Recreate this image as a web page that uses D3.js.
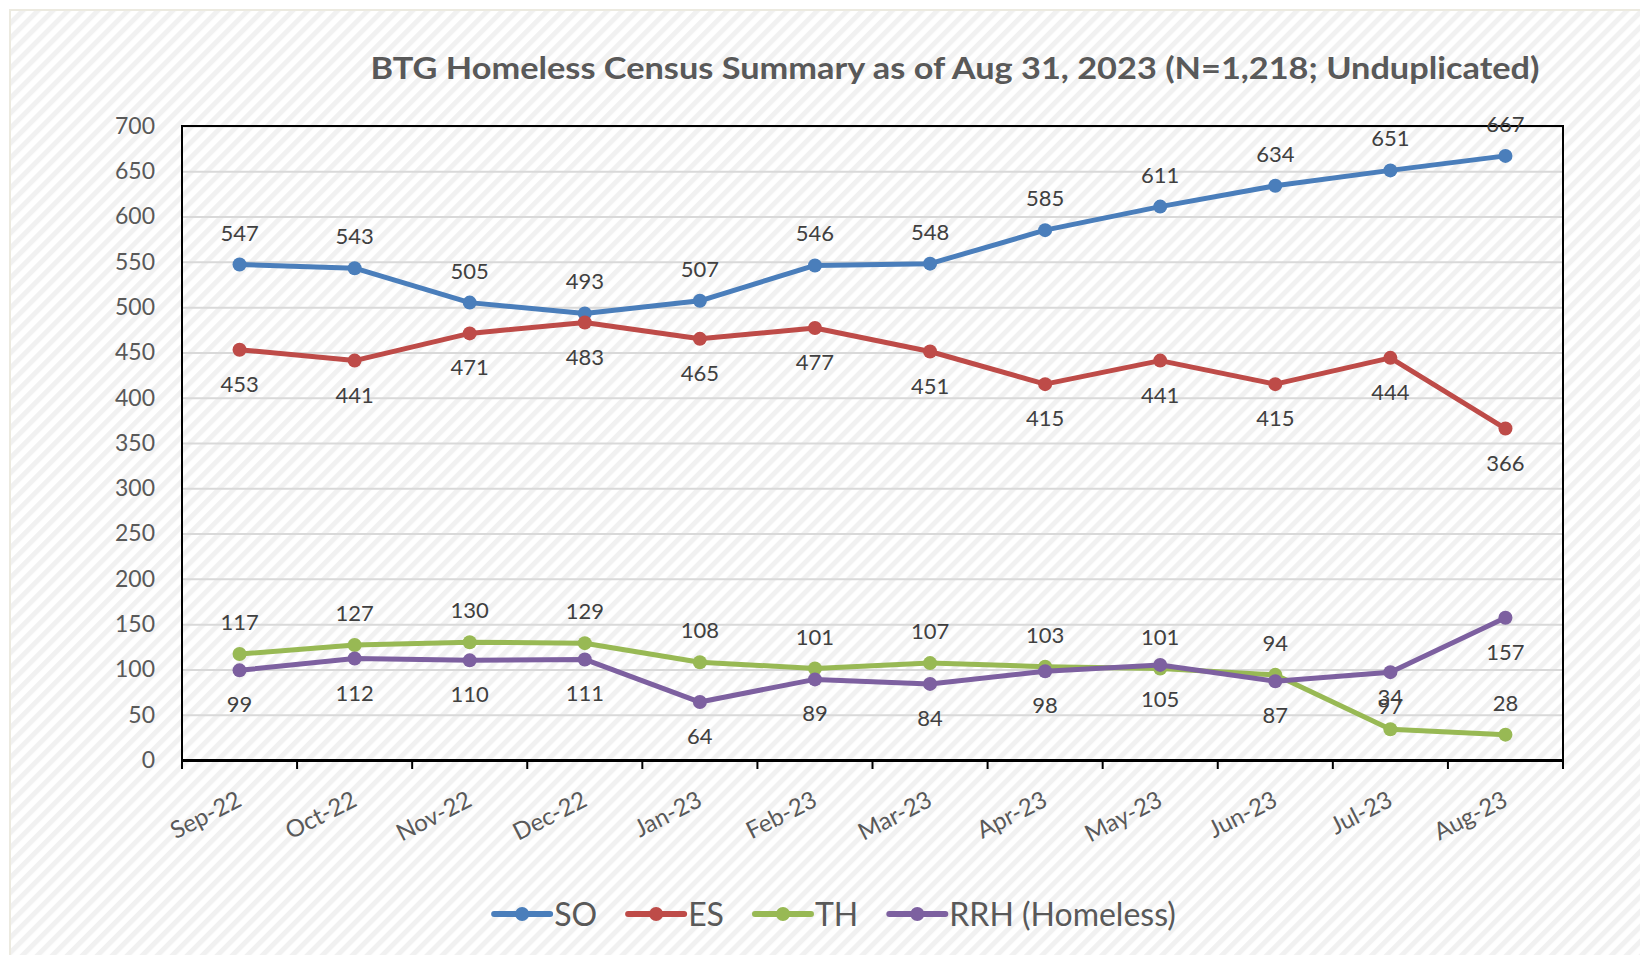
<!DOCTYPE html>
<html>
<head>
<meta charset="utf-8">
<script src="https://cdn.jsdelivr.net/npm/d3@7"></script>
<style>
  html, body { margin: 0; padding: 0; background: #fff; }
  svg { display: block; font-family: Lato, "Open Sans", sans-serif; }
</style>
</head>
<body>
<div id="chart"></div>
<script>
/* ---------- data ---------- */
const months = ["Sep-22", "Oct-22", "Nov-22", "Dec-22", "Jan-23", "Feb-23",
                "Mar-23", "Apr-23", "May-23", "Jun-23", "Jul-23", "Aug-23"];

const soValues  = [547, 543, 505, 493, 507, 546, 548, 585, 611, 634, 651, 667];
const esValues  = [453, 441, 471, 483, 465, 477, 451, 415, 441, 415, 444, 366];
const thValues  = [117, 127, 130, 129, 108, 101, 107, 103, 101, 94, 34, 28];
const rrhValues = [99, 112, 110, 111, 64, 89, 84, 98, 105, 87, 97, 157];

const yTicks = d3.range(0, 701, 50);

const series = [
  { name: "SO",             values: soValues,  color: "#4a7ebb", labelPos: "above" },
  { name: "ES",             values: esValues,  color: "#be4b48", labelPos: "below" },
  { name: "TH",             values: thValues,  color: "#98b954", labelPos: "above" },
  { name: "RRH (Homeless)", values: rrhValues, color: "#7d60a0", labelPos: "below" }
];

/* ---------- layout ---------- */
const W = 1640, H = 955;
const plot = { left: 182, right: 1563, top: 126, bottom: 760 };

const svg = d3.select("#chart").append("svg")
  .attr("width", W)
  .attr("height", H);

// diagonal hatch background
const defs = svg.append("defs");
const hatch = defs.append("pattern")
  .attr("id", "hatch")
  .attr("patternUnits", "userSpaceOnUse")
  .attr("width", 10.6)
  .attr("height", 10.6)
  .attr("patternTransform", "rotate(45)");
hatch.append("rect").attr("width", 10.6).attr("height", 10.6).attr("fill", "#ffffff");
hatch.append("rect").attr("width", 5).attr("height", 10.6).attr("fill", "#f1f1f1");

svg.append("rect")
  .attr("x", 10).attr("y", 10)
  .attr("width", W).attr("height", H)
  .attr("fill", "url(#hatch)")
  .attr("stroke", "#eceae0")
  .attr("stroke-width", 2);

/* ---------- scales ---------- */
const x = d3.scaleBand()
  .domain(months)
  .range([plot.left, plot.right]);

const y = d3.scaleLinear()
  .domain([0, 700])
  .range([plot.bottom, plot.top]);

const cx = m => x(m) + x.bandwidth() / 2;

/* ---------- gridlines + y axis ---------- */
const yAxis = svg.append("g")
  .attr("transform", `translate(${plot.left},0)`)
  .call(d3.axisLeft(y)
    .tickValues(yTicks)
    .tickSize(-(plot.right - plot.left))
    .tickPadding(27));

yAxis.select(".domain").remove();
yAxis.selectAll(".tick line")
  .attr("stroke", "#d9d9d9")
  .attr("stroke-width", 2);
yAxis.selectAll(".tick text")
  .attr("fill", "#595959")
  .attr("font-size", "23px")
  .attr("font-family", "Lato, sans-serif");

// plot frame
svg.append("rect")
  .attr("x", plot.left).attr("y", plot.top)
  .attr("width", plot.right - plot.left)
  .attr("height", plot.bottom - plot.top)
  .attr("fill", "none")
  .attr("stroke", "#000")
  .attr("stroke-width", 2);

/* ---------- x axis ---------- */
const xAxis = svg.append("g")
  .attr("transform", `translate(0,${plot.bottom})`)
  .call(d3.axisBottom(x).tickSize(0).tickFormat(d => d));

xAxis.select(".domain")
  .attr("stroke", "#000")
  .attr("stroke-width", 3);

xAxis.selectAll(".tick text")
  .attr("fill", "#595959")
  .attr("font-size", "24px")
  .attr("font-family", "Lato, sans-serif")
  .attr("text-anchor", "end")
  .attr("y", 0)
  .attr("dy", "0.71em")
  .attr("transform", `translate(-4,30) rotate(-27)`);

// tick marks between categories
const boundaries = months.map(m => x(m)).concat([plot.right]);
svg.append("g")
  .selectAll("line")
  .data(boundaries)
  .join("line")
  .attr("x1", d => d).attr("x2", d => d)
  .attr("y1", plot.bottom).attr("y2", plot.bottom + 9)
  .attr("stroke", "#000")
  .attr("stroke-width", 2);

/* ---------- lines, markers, labels ---------- */
const line = d3.line()
  .x((d, i) => cx(months[i]))
  .y(d => y(d));

series.forEach(s => {
  const g = svg.append("g");

  g.append("path")
    .datum(s.values)
    .attr("d", line)
    .attr("fill", "none")
    .attr("stroke", s.color)
    .attr("stroke-width", 5)
    .attr("stroke-linejoin", "round");

  g.selectAll("circle")
    .data(s.values)
    .join("circle")
    .attr("cx", (d, i) => cx(months[i]))
    .attr("cy", d => y(d))
    .attr("r", 7)
    .attr("fill", s.color);
});

// labels drawn after all lines so they sit on top
series.forEach(s => {
  svg.append("g")
    .selectAll("text")
    .data(s.values)
    .join("text")
    .attr("x", (d, i) => cx(months[i]))
    .attr("y", d => s.labelPos === "above" ? y(d) - 24 : y(d) + 42)
    .attr("text-anchor", "middle")
    .attr("font-size", "22px")
    .attr("fill", "#404040")
    .text(d => d);
});

/* ---------- title ---------- */
svg.append("text")
  .attr("x", 955)
  .attr("y", 79)
  .attr("text-anchor", "middle")
  .attr("font-size", "31px")
  .attr("font-weight", 700)
  .attr("fill", "#595959")
  .attr("textLength", 1169)
  .attr("lengthAdjust", "spacingAndGlyphs")
  .text("BTG Homeless Census Summary as of Aug 31, 2023 (N=1,218; Unduplicated)");

/* ---------- legend ---------- */
const legend = svg.append("g");
const legendY = 914;
const swatch = 56, textGap = 4, itemGap = 31;

let lx = 0;
series.forEach(s => {
  const item = legend.append("g");
  item.append("line")
    .attr("x1", 0).attr("x2", swatch)
    .attr("y1", 0).attr("y2", 0)
    .attr("stroke", s.color)
    .attr("stroke-width", 6)
    .attr("stroke-linecap", "round");
  item.append("circle")
    .attr("cx", swatch / 2).attr("cy", 0)
    .attr("r", 7)
    .attr("fill", s.color);
  const t = item.append("text")
    .attr("x", swatch + textGap)
    .attr("y", 0)
    .attr("dy", "0.36em")
    .attr("font-size", "32px")
    .attr("fill", "#595959")
    .text(s.name);
  const w = swatch + textGap + t.node().getComputedTextLength();
  item.attr("transform", `translate(${lx},${legendY})`);
  lx += w + itemGap;
});
const legendWidth = lx - itemGap;
legend.attr("transform", `translate(${835 - legendWidth / 2},0)`);
</script>
</body>
</html>
